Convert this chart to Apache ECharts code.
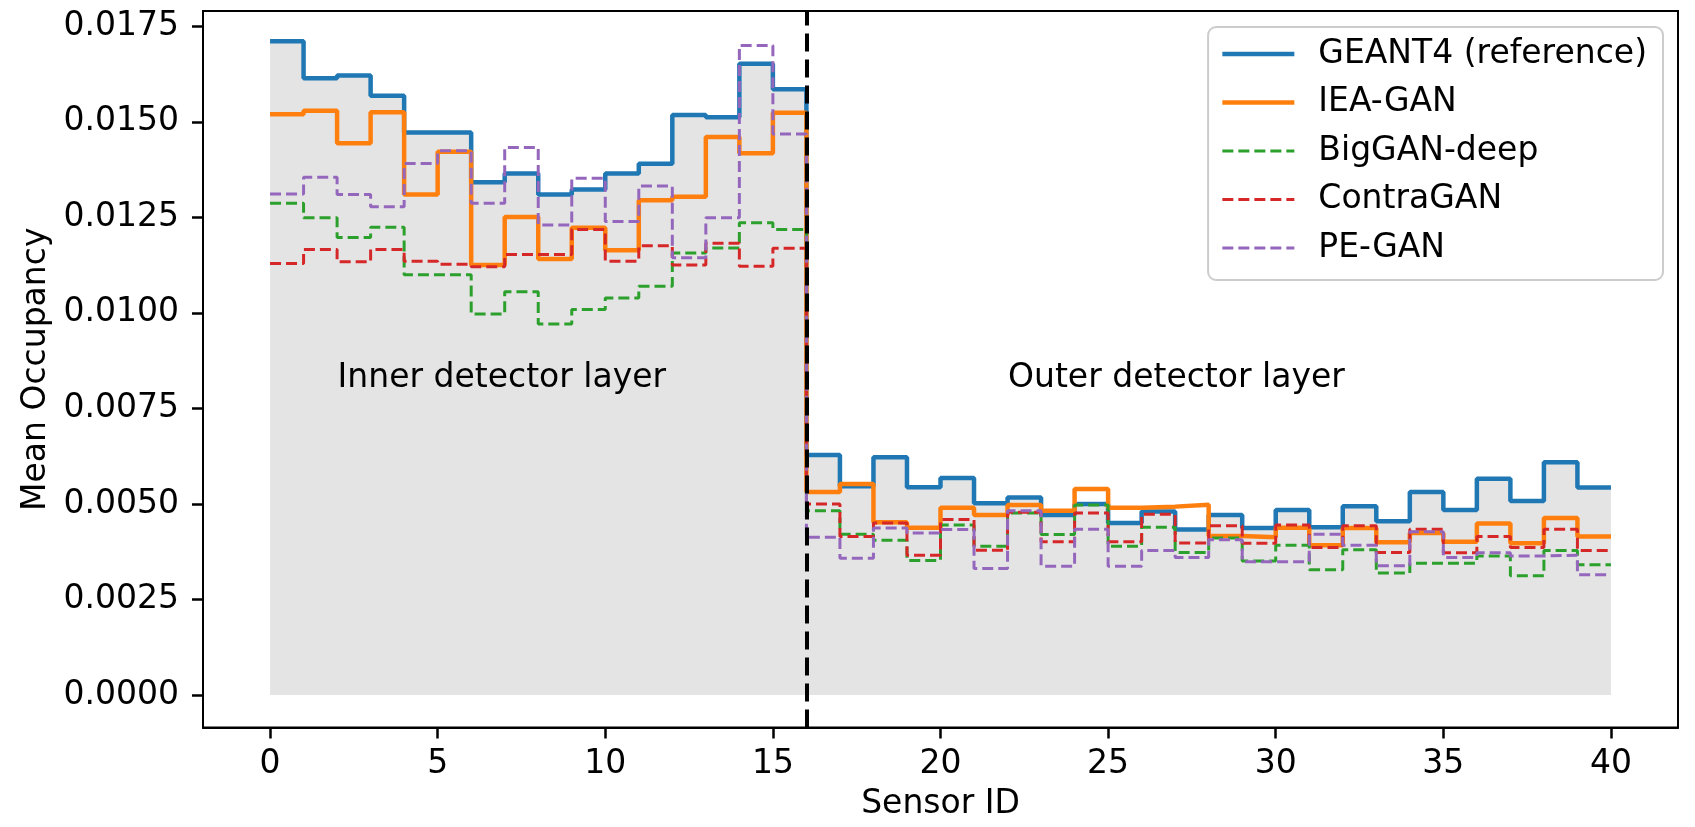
<!DOCTYPE html>
<html>
<head>
<meta charset="utf-8">
<script src="https://cdn.jsdelivr.net/npm/echarts@6/dist/echarts.min.js"></script>
<style>
html,body{margin:0;padding:0;background:#fff;}
#chart{width:1695px;height:827px;}
</style>
</head>
<body>
<div id="chart"></div>
<script>
// Sensor bins 0..39 (each value spans [i, i+1])
const seriesNames = ['GEANT4 (reference)', 'IEA-GAN', 'BigGAN-deep', 'ContraGAN', 'PE-GAN'];
const geant4 = [0.01711,0.01614,0.01621,0.01568,0.01472,0.01472,0.01342,0.01365,0.01310,0.01323,0.01365,0.01390,0.01518,0.01512,0.01652,0.01585,
  0.00628,0.00546,0.00622,0.00544,0.00568,0.00502,0.00517,0.00471,0.00500,0.00450,0.00480,0.00433,0.00471,0.00437,0.00484,0.00439,0.00494,0.00455,0.00531,0.00484,0.00566,0.00508,0.00609,0.00543];
const ieaGan = [0.01520,0.01529,0.01444,0.01525,0.01310,0.01422,0.01125,0.01251,0.01141,0.01223,0.01164,0.01295,0.01304,0.01460,0.01418,0.01524,
  0.00531,0.00552,0.00452,0.00438,0.00490,0.00471,0.00497,0.00482,0.00539,0.00490,0.00493,0.00498,0.00416,0.00413,0.00438,0.00392,0.00437,0.00400,0.00424,0.00401,0.00449,0.00397,0.00463,0.00415];
const bigGanDeep = [0.01287,0.01249,0.01197,0.01224,0.01100,0.01100,0.00997,0.01055,0.00971,0.01009,0.01039,0.01070,0.01157,0.01170,0.01236,0.01218,
  0.00482,0.00421,0.00405,0.00352,0.00445,0.00389,0.00476,0.00420,0.00497,0.00389,0.00439,0.00373,0.00411,0.00351,0.00392,0.00328,0.00380,0.00319,0.00345,0.00345,0.00364,0.00312,0.00378,0.00341];
const contraGan = [0.01129,0.01166,0.01134,0.01166,0.01135,0.01127,0.01121,0.01153,0.01153,0.01218,0.01135,0.01176,0.01125,0.01182,0.01122,0.01169,
  0.00500,0.00415,0.00450,0.00366,0.00459,0.00379,0.00478,0.00401,0.00476,0.00401,0.00473,0.00398,0.00443,0.00397,0.00445,0.00386,0.00443,0.00373,0.00434,0.00372,0.00415,0.00386,0.00434,0.00378];
const peGan = [0.01311,0.01355,0.01310,0.01278,0.01391,0.01424,0.01287,0.01433,0.01230,0.01352,0.01239,0.01332,0.01144,0.01249,0.01700,0.01468,
  0.00413,0.00358,0.00437,0.00424,0.00433,0.00331,0.00482,0.00337,0.00434,0.00337,0.00378,0.00360,0.00406,0.00349,0.00349,0.00421,0.00392,0.00338,0.00427,0.00360,0.00372,0.00364,0.00366,0.00315];
const xTicks = [0, 5, 10, 15, 20, 25, 30, 35, 40];
const yTicks = [0, 0.0025, 0.005, 0.0075, 0.01, 0.0125, 0.015, 0.0175];
const layerBoundary = 16;
const layerLabels = [
  {name: 'Inner detector layer', x: 2, y: 0.008},
  {name: 'Outer detector layer', x: 22, y: 0.008}
];

const FONT = 'DejaVu Sans';
const FS = 33;
const colors = ['#1f77b4', '#ff7f0e', '#2ca02c', '#d62728', '#9467bd'];
const widths = [4.5, 4.5, 3, 3, 3];
const dashes = ['solid', 'solid', [11, 5], [11, 5], [11, 5]];

function stepData(arr) {
  const d = arr.map((v, i) => [i, v]);
  d.push([arr.length, arr[arr.length - 1]]);
  return d;
}

const allData = [geant4, ieaGan, bigGanDeep, contraGan, peGan];
const series = allData.map((arr, k) => {
  const s = {
    name: seriesNames[k],
    type: 'line',
    step: 'end',
    data: stepData(arr),
    symbol: 'none',
    silent: true,
    animation: false,
    itemStyle: {color: colors[k]},
    lineStyle: {color: colors[k], width: widths[k], type: dashes[k]}
  };
  if (k === 0) {
    s.areaStyle = {color: '#e4e4e4', opacity: 1, origin: 'auto'};
  }
  if (k === 4) {
    s.markLine = {
      silent: true,
      symbol: ['none', 'none'],
      label: {show: false},
      lineStyle: {color: '#000', width: 4, type: [18, 8]},
      data: [{xAxis: layerBoundary}]
    };
    s.markPoint = {
      silent: true,
      symbol: 'circle',
      symbolSize: 1,
      itemStyle: {color: 'rgba(0,0,0,0)'},
      label: {
        show: true,
        formatter: '{b}',
        position: 'right',
        distance: 0,
        offset: [0, -11],
        color: '#000',
        fontFamily: FONT,
        fontSize: FS
      },
      data: layerLabels.map(l => ({name: l.name, coord: [l.x, l.y]}))
    };
  }
  return s;
});

const chart = echarts.init(document.getElementById('chart'), null, {renderer: 'canvas'});
chart.setOption({
  animation: false,
  backgroundColor: '#fff',
  textStyle: {fontFamily: FONT},
  grid: {left: 203, right: 17, top: 11, bottom: 99.5, show: true, borderColor: '#000', borderWidth: 2, backgroundColor: 'transparent'},
  legend: {
    orient: 'vertical',
    right: 32,
    top: 27,
    padding: [9, 16, 14, 12],
    itemWidth: 72,
    itemHeight: 14,
    itemGap: 12.5,
    backgroundColor: '#fff',
    borderColor: '#cccccc',
    borderWidth: 2,
    borderRadius: 8,
    selectedMode: false,
    itemStyle: {color: 'rgba(0,0,0,0)', borderColor: 'rgba(0,0,0,0)', borderWidth: 0, opacity: 0},
    textStyle: {fontFamily: FONT, fontSize: FS, color: '#000', lineHeight: 36, padding: [0, 0, 0, 19]},
    data: seriesNames.map((n, k) => ({
      name: n,
      lineStyle: {color: colors[k], width: widths[k], type: dashes[k], opacity: 1}
    }))
  },
  xAxis: {
    type: 'value',
    min: -2,
    max: 42,
    name: 'Sensor ID',
    nameLocation: 'middle',
    nameGap: 60,
    nameTextStyle: {fontFamily: FONT, fontSize: FS, color: '#000'},
    axisLine: {show: true, onZero: false, lineStyle: {color: '#000', width: 2}},
    axisTick: {show: true, customValues: xTicks, length: 11, lineStyle: {color: '#000', width: 2.5}},
    axisLabel: {customValues: xTicks, fontFamily: FONT, fontSize: FS, color: '#000', margin: 20},
    splitLine: {show: false}
  },
  yAxis: {
    type: 'value',
    min: -0.00085,
    max: 0.0179,
    name: 'Mean Occupancy',
    nameLocation: 'middle',
    nameGap: 148,
    nameTextStyle: {fontFamily: FONT, fontSize: FS, color: '#000'},
    axisLine: {show: true, onZero: false, lineStyle: {color: '#000', width: 2}},
    axisTick: {show: true, customValues: yTicks, length: 11, lineStyle: {color: '#000', width: 2.5}},
    axisLabel: {customValues: yTicks, fontFamily: FONT, fontSize: FS, color: '#000', margin: 24,
      formatter: v => v.toFixed(4)},
    splitLine: {show: false}
  },
  series: series
});
</script>
</body>
</html>
